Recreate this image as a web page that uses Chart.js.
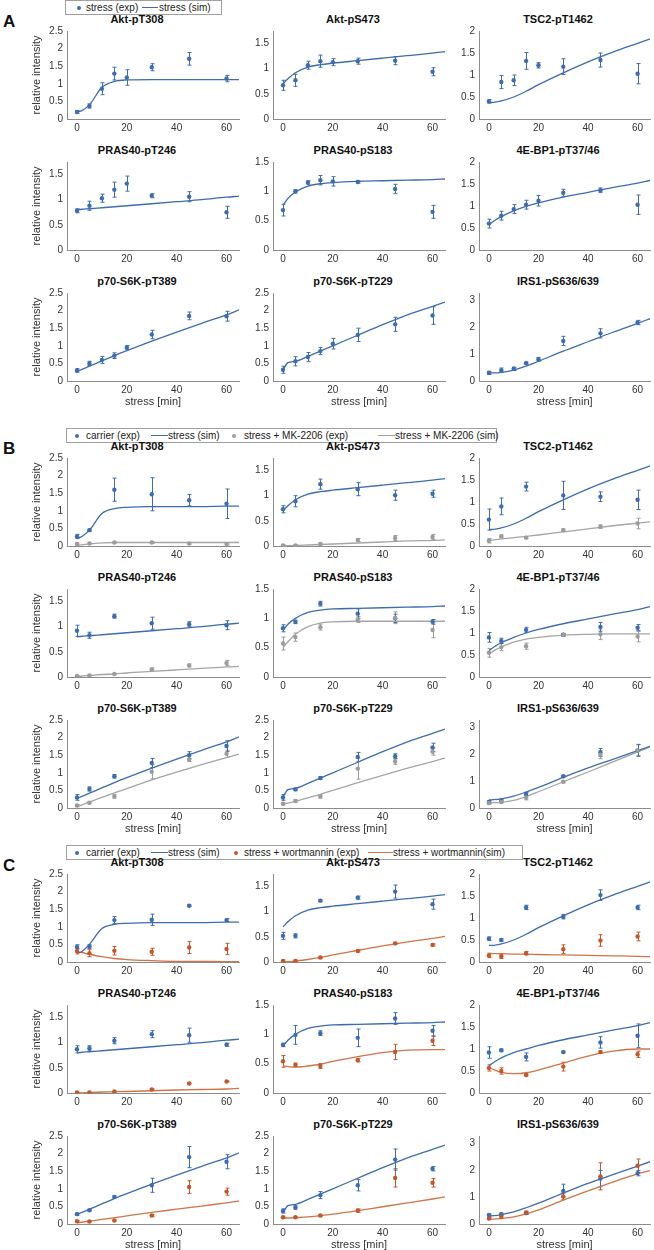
<!DOCTYPE html>
<html>
<head>
<meta charset="utf-8">
<script src="https://cdn.jsdelivr.net/npm/chart.js@4.4.1/dist/chart.umd.min.js"></script>
<style>
  body { margin: 0; background: #fff; width: 654px; height: 1250px; position: relative; overflow: hidden;
         font-family: 'Liberation Sans', Arial, sans-serif; }
  canvas { position: absolute; }
  .legend { position: absolute; height: 15px; border: 1px solid #a0a0a0; box-sizing: border-box; background: #fff;
            font-size: 10px; color: #222; white-space: nowrap; }
  .legend > span { position: absolute; }
  .dot { width: 4px; height: 4px; border-radius: 50%; top: 4.5px; margin-left: -2px; }
  .seg { height: 1.4px; top: 6px; }
  .lt { top: 0; line-height: 13px; }
  .letter { position: absolute; left: 3px; font: bold 17px 'Liberation Sans', Arial, sans-serif; color: #111; }
  .ttl { position: absolute; width: 140px; text-align: center; font: bold 11px 'Liberation Sans', Arial, sans-serif;
         line-height: 13px; color: #111; white-space: nowrap; }
</style>
</head>
<body>
<div class="letter" style="top:12px">A</div>
<div class="letter" style="top:439px">B</div>
<div class="letter" style="top:856px">C</div>

<div class="legend" style="left:65px;top:0;width:157px;">
  <span class="dot" style="left:13px;background:#3d6cb0"></span><span class="lt" style="left:20px">stress (exp)</span>
  <span class="seg" style="left:76px;width:16px;background:#3d6cb0"></span><span class="lt" style="left:93px">stress (sim)</span>
</div>
<div class="legend" style="left:66px;top:428px;width:431px;">
  <span class="dot" style="left:10px;background:#3d6cb0"></span><span class="lt" style="left:19px">carrier (exp)</span>
  <span class="seg" style="left:84px;width:17px;background:#3d6cb0"></span><span class="lt" style="left:101px">stress (sim)</span>
  <span class="dot" style="left:167px;background:#9c9c9c"></span><span class="lt" style="left:177px">stress + MK-2206 (exp)</span>
  <span class="seg" style="left:311px;width:17px;background:#a5a5a5"></span><span class="lt" style="left:328px">stress + MK-2206 (sim)</span>
</div>
<div class="legend" style="left:66px;top:845px;width:457px;">
  <span class="dot" style="left:10px;background:#3d6cb0"></span><span class="lt" style="left:19px">carrier (exp)</span>
  <span class="seg" style="left:84px;width:17px;background:#3d6cb0"></span><span class="lt" style="left:101px">stress (sim)</span>
  <span class="dot" style="left:169px;background:#c4562b"></span><span class="lt" style="left:177px">stress + wortmannin (exp)</span>
  <span class="seg" style="left:301px;width:25px;background:#cf7446"></span><span class="lt" style="left:326px">stress + wortmannin(sim)</span>
</div>

<script>
// ---- data ----
const proteins = ['Akt-pT308', 'Akt-pS473', 'TSC2-pT1462', 'PRAS40-pT246', 'PRAS40-pS183',
                  '4E-BP1-pT37/46', 'p70-S6K-pT389', 'p70-S6K-pT229', 'IRS1-pS636/639'];
const yMax = [2.5, 1.75, 2, 1.75, 1.5, 2, 2.5, 2.5, 3.25];
const yTicks = [
  [0, 0.5, 1, 1.5, 2, 2.5], [0, 0.5, 1, 1.5], [0, 0.5, 1, 1.5, 2], [0, 0.5, 1, 1.5], [0, 0.5, 1, 1.5],
  [0, 0.5, 1, 1.5, 2], [0, 0.5, 1, 1.5, 2, 2.5], [0, 0.5, 1, 1.5, 2, 2.5], [0, 0.5, 1, 1.5, 2, 2.5, 3]
];
const xTicks = [0, 20, 40, 60];
const timeA = [0, 5, 10, 15, 20, 30, 45, 60];
const timeBC = [0, 5, 15, 30, 45, 60];
const simT = [0, 2, 5, 10, 15, 20, 30, 40, 50, 60, 65];

// panel A: stress (exp) and stress (sim)
const aMean = [
  [0.2, 0.37, 0.86, 1.29, 1.18, 1.47, 1.71, 1.15],
  [0.67, 0.77, 1.07, 1.15, 1.13, 1.15, 1.16, 0.94],
  [0.4, 0.84, 0.88, 1.32, 1.22, 1.19, 1.34, 1.03],
  [0.78, 0.88, 1.03, 1.2, 1.32, 1.08, 1.06, 0.75],
  [0.68, 1.0, 1.15, 1.19, 1.17, 1.16, 1.04, 0.65],
  [0.6, 0.78, 0.93, 1.03, 1.12, 1.3, 1.36, 1.03],
  [0.3, 0.5, 0.6, 0.72, 0.95, 1.32, 1.85, 1.84],
  [0.32, 0.56, 0.68, 0.85, 1.06, 1.31, 1.61, 1.86],
  [0.3, 0.4, 0.45, 0.66, 0.8, 1.48, 1.76, 2.16]
];
const aErr = [
  [0.04, 0.06, 0.17, 0.18, 0.22, 0.1, 0.18, 0.09],
  [0.1, 0.12, 0.08, 0.12, 0.07, 0.06, 0.08, 0.08],
  [0.04, 0.15, 0.12, 0.19, 0.06, 0.18, 0.16, 0.23],
  [0.04, 0.09, 0.08, 0.15, 0.15, 0.04, 0.1, 0.12],
  [0.1, 0.03, 0.03, 0.08, 0.08, 0.02, 0.08, 0.11],
  [0.1, 0.1, 0.1, 0.1, 0.12, 0.08, 0.05, 0.22],
  [0.05, 0.06, 0.1, 0.08, 0.06, 0.12, 0.11, 0.14],
  [0.1, 0.13, 0.13, 0.1, 0.15, 0.19, 0.2, 0.25],
  [0.06, 0.08, 0.06, 0.04, 0.07, 0.17, 0.17, 0.08]
];
const aSim = [
  [0.2, 0.24, 0.4, 0.9, 1.07, 1.11, 1.12, 1.12, 1.12, 1.12, 1.12],
  [0.7, 0.8, 0.92, 1.03, 1.08, 1.11, 1.16, 1.21, 1.26, 1.31, 1.34],
  [0.38, 0.38, 0.41, 0.5, 0.63, 0.78, 1.05, 1.3, 1.52, 1.72, 1.82],
  [0.8, 0.81, 0.82, 0.84, 0.86, 0.88, 0.92, 0.96, 1.0, 1.05, 1.07],
  [0.76, 0.88, 0.99, 1.09, 1.13, 1.15, 1.17, 1.18, 1.19, 1.2, 1.21],
  [0.57, 0.66, 0.76, 0.89, 0.99, 1.07, 1.2, 1.31, 1.42, 1.52, 1.58],
  [0.27, 0.33, 0.42, 0.57, 0.72, 0.86, 1.13, 1.39, 1.64, 1.88, 2.02],
  [0.32, 0.52, 0.56, 0.7, 0.85, 1.0, 1.3, 1.6, 1.88, 2.12, 2.24],
  [0.3, 0.3, 0.32, 0.4, 0.55, 0.73, 1.1, 1.45, 1.8, 2.13, 2.3]
];

// panel B: carrier / stress + MK-2206
const bCarrier = [
  [0.27, 0.45, 1.6, 1.47, 1.3, 1.2],
  [0.73, 0.89, 1.23, 1.13, 1.01, 1.04],
  [0.6, 0.9, 1.35, 1.15, 1.12, 1.05],
  [0.92, 0.83, 1.21, 1.07, 1.05, 1.03],
  [0.83, 0.94, 1.25, 1.08, 1.0, 0.94],
  [0.9, 0.82, 1.07, 0.96, 1.14, 1.12],
  [0.3, 0.54, 0.9, 1.28, 1.5, 1.76],
  [0.3, 0.53, 0.85, 1.45, 1.47, 1.72],
  [0.22, 0.28, 0.52, 1.17, 2.05, 2.13]
];
const bCarrierErr = [
  [0.06, 0.03, 0.33, 0.47, 0.16, 0.42],
  [0.07, 0.11, 0.1, 0.13, 0.1, 0.07],
  [0.24, 0.19, 0.1, 0.32, 0.11, 0.22],
  [0.11, 0.06, 0.04, 0.12, 0.05, 0.09],
  [0.06, 0.03, 0.04, 0.08, 0.07, 0.04],
  [0.11, 0.06, 0.06, 0.03, 0.1, 0.07],
  [0.08, 0.06, 0.05, 0.13, 0.1, 0.15],
  [0.08, 0.04, 0.04, 0.13, 0.07, 0.12],
  [0.05, 0.05, 0.06, 0.03, 0.15, 0.22]
];
const bMk = [
  [0.06, 0.07, 0.1, 0.1, 0.07, 0.06],
  [0.01, 0.01, 0.04, 0.12, 0.16, 0.18],
  [0.12, 0.22, 0.19, 0.36, 0.44, 0.51],
  [0.02, 0.03, 0.06, 0.15, 0.23, 0.28],
  [0.57, 0.68, 0.85, 0.98, 1.01, 0.8],
  [0.55, 0.68, 0.7, 0.96, 0.97, 0.92],
  [0.07, 0.15, 0.33, 1.03, 1.37, 1.54],
  [0.12, 0.2, 0.33, 1.12, 1.32, 1.6],
  [0.18, 0.22, 0.38, 0.97, 1.97, 2.13]
];
const bMkErr = [
  [0.03, 0.02, 0.02, 0.03, 0.02, 0.03],
  [0.02, 0.02, 0.02, 0.03, 0.05, 0.05],
  [0.05, 0.03, 0.02, 0.03, 0.04, 0.12],
  [0.01, 0.01, 0.01, 0.03, 0.03, 0.05],
  [0.11, 0.07, 0.05, 0.05, 0.1, 0.13],
  [0.1, 0.08, 0.07, 0.03, 0.12, 0.12],
  [0.03, 0.03, 0.05, 0.2, 0.05, 0.1],
  [0.03, 0.04, 0.05, 0.3, 0.08, 0.1],
  [0.04, 0.04, 0.08, 0.04, 0.15, 0.2]
];
const bSimStress = [
  [0.22, 0.27, 0.45, 0.92, 1.06, 1.1, 1.12, 1.12, 1.12, 1.13, 1.13],
  [0.7, 0.8, 0.92, 1.03, 1.08, 1.11, 1.16, 1.21, 1.26, 1.31, 1.34],
  [0.38, 0.38, 0.41, 0.5, 0.63, 0.78, 1.05, 1.3, 1.52, 1.72, 1.82],
  [0.8, 0.81, 0.82, 0.84, 0.86, 0.88, 0.92, 0.96, 1.0, 1.05, 1.07],
  [0.8, 0.9, 1.0, 1.1, 1.14, 1.16, 1.17, 1.18, 1.19, 1.2, 1.21],
  [0.6, 0.68, 0.78, 0.9, 1.0, 1.08, 1.21, 1.32, 1.43, 1.53, 1.6],
  [0.27, 0.33, 0.42, 0.57, 0.72, 0.86, 1.13, 1.39, 1.64, 1.88, 2.02],
  [0.32, 0.52, 0.56, 0.7, 0.85, 1.0, 1.3, 1.6, 1.88, 2.12, 2.24],
  [0.3, 0.31, 0.34, 0.44, 0.59, 0.76, 1.13, 1.48, 1.8, 2.12, 2.28]
];
const bSimMk = [
  [0.02, 0.03, 0.06, 0.09, 0.1, 0.1, 0.1, 0.1, 0.1, 0.1, 0.1],
  [0.0, 0.005, 0.01, 0.02, 0.03, 0.04, 0.06, 0.08, 0.1, 0.11, 0.12],
  [0.13, 0.14, 0.16, 0.19, 0.22, 0.25, 0.32, 0.39, 0.46, 0.52, 0.55],
  [0.01, 0.02, 0.03, 0.05, 0.06, 0.08, 0.11, 0.14, 0.17, 0.2, 0.21],
  [0.5, 0.6, 0.73, 0.86, 0.92, 0.94, 0.95, 0.95, 0.95, 0.95, 0.95],
  [0.52, 0.6, 0.68, 0.79, 0.86, 0.9, 0.95, 0.97, 0.98, 0.98, 0.98],
  [0.03, 0.09, 0.17, 0.3, 0.43, 0.55, 0.8, 1.02, 1.23, 1.43, 1.53],
  [0.12, 0.14, 0.19, 0.29, 0.39, 0.5, 0.72, 0.93, 1.13, 1.32, 1.42],
  [0.2, 0.2, 0.21, 0.28, 0.42, 0.6, 0.97, 1.33, 1.7, 2.07, 2.26]
];

// panel C: carrier / stress + wortmannin
const cCarrier = [
  [0.43, 0.44, 1.19, 1.2, 1.6, 1.19],
  [0.52, 0.52, 1.22, 1.28, 1.4, 1.15],
  [0.53, 0.5, 1.24, 1.03, 1.52, 1.24],
  [0.87, 0.89, 1.04, 1.17, 1.15, 0.96],
  [0.82, 0.99, 1.02, 0.94, 1.27, 1.06],
  [0.92, 0.97, 0.82, 0.93, 1.15, 1.3],
  [0.28, 0.39, 0.77, 1.1, 1.9, 1.77],
  [0.37, 0.47, 0.82, 1.1, 1.83, 1.57],
  [0.33, 0.36, 0.4, 1.22, 1.68, 1.88]
];
const cCarrierErr = [
  [0.06, 0.05, 0.1, 0.16, 0.02, 0.04],
  [0.07, 0.04, 0.02, 0.03, 0.13, 0.1],
  [0.04, 0.03, 0.05, 0.05, 0.12, 0.05],
  [0.07, 0.05, 0.06, 0.07, 0.14, 0.03],
  [0.03, 0.16, 0.04, 0.15, 0.1, 0.09],
  [0.13, 0.03, 0.09, 0.02, 0.13, 0.27],
  [0.03, 0.02, 0.03, 0.2, 0.3, 0.2],
  [0.06, 0.05, 0.1, 0.16, 0.3, 0.06],
  [0.04, 0.04, 0.05, 0.25, 0.3, 0.1]
];
const cWort = [
  [0.31, 0.25, 0.32, 0.29, 0.41, 0.37],
  [0.02, 0.02, 0.09, 0.22, 0.37, 0.34],
  [0.15, 0.13, 0.2, 0.29, 0.49, 0.58],
  [0.01, 0.01, 0.03, 0.07, 0.19, 0.23],
  [0.54, 0.48, 0.46, 0.56, 0.7, 0.89],
  [0.57, 0.5, 0.41, 0.6, 0.93, 0.88],
  [0.08, 0.07, 0.1, 0.24, 1.05, 0.92],
  [0.19, 0.19, 0.24, 0.38, 1.31, 1.17],
  [0.2, 0.27, 0.42, 1.02, 1.76, 2.15]
];
const cWortErr = [
  [0.08, 0.1, 0.12, 0.1, 0.17, 0.16],
  [0.02, 0.02, 0.02, 0.02, 0.02, 0.02],
  [0.05, 0.05, 0.04, 0.1, 0.13, 0.1],
  [0.01, 0.01, 0.01, 0.01, 0.01, 0.01],
  [0.1, 0.03, 0.04, 0.03, 0.13, 0.08],
  [0.07, 0.07, 0.02, 0.1, 0.03, 0.07],
  [0.02, 0.02, 0.02, 0.03, 0.18, 0.1],
  [0.03, 0.02, 0.03, 0.05, 0.26, 0.12],
  [0.04, 0.06, 0.06, 0.12, 0.5, 0.25]
];
const cSimStress = [
  [0.25, 0.3, 0.5, 0.95, 1.07, 1.1, 1.12, 1.12, 1.12, 1.13, 1.13],
  [0.7, 0.8, 0.92, 1.03, 1.08, 1.11, 1.16, 1.21, 1.26, 1.31, 1.34],
  [0.38, 0.38, 0.41, 0.5, 0.63, 0.78, 1.05, 1.3, 1.52, 1.72, 1.82],
  [0.8, 0.81, 0.82, 0.84, 0.86, 0.88, 0.92, 0.96, 1.0, 1.05, 1.07],
  [0.8, 0.9, 1.0, 1.1, 1.14, 1.16, 1.17, 1.18, 1.19, 1.2, 1.21],
  [0.62, 0.7, 0.8, 0.92, 1.0, 1.08, 1.21, 1.32, 1.43, 1.53, 1.6],
  [0.27, 0.33, 0.42, 0.57, 0.72, 0.86, 1.13, 1.39, 1.64, 1.88, 2.02],
  [0.32, 0.52, 0.56, 0.7, 0.85, 1.0, 1.3, 1.6, 1.88, 2.12, 2.24],
  [0.3, 0.31, 0.35, 0.45, 0.6, 0.77, 1.14, 1.5, 1.82, 2.14, 2.3]
];
const cSimWort = [
  [0.3, 0.27, 0.22, 0.15, 0.1, 0.07, 0.04, 0.02, 0.02, 0.01, 0.01],
  [0.0, 0.005, 0.02, 0.05, 0.09, 0.14, 0.23, 0.32, 0.4, 0.47, 0.51],
  [0.19, 0.19, 0.19, 0.18, 0.18, 0.17, 0.16, 0.15, 0.14, 0.13, 0.12],
  [0.0, 0.003, 0.01, 0.02, 0.025, 0.03, 0.045, 0.06, 0.07, 0.08, 0.09],
  [0.46, 0.45, 0.44, 0.46, 0.49, 0.54, 0.62, 0.69, 0.73, 0.74, 0.74],
  [0.58, 0.53, 0.47, 0.44, 0.46, 0.52, 0.68, 0.84, 0.95, 1.0, 1.0],
  [0.03, 0.05, 0.08, 0.13, 0.18, 0.23, 0.33, 0.42, 0.51, 0.6, 0.65],
  [0.17, 0.17, 0.18, 0.2, 0.24, 0.28, 0.38, 0.49, 0.6, 0.71, 0.77],
  [0.18, 0.18, 0.2, 0.26, 0.37, 0.52, 0.88, 1.22, 1.55, 1.85, 1.97]
];

// ---- styling / layout ----
const BLUE = '#3d6cb0', GRAY = '#9c9c9c', GRAY_LINE = '#a5a5a5', ORANGE = '#c4562b', ORANGE_LINE = '#cf7446';
const FONT = "'Liberation Sans', Arial, sans-serif";
const AXIS = '#8c8c8c', TEXT = '#333';
const panelTop = [0, 427, 843];
const colLeft = [0, 246, 452], colWidth = [243, 203, 202], colAxis = [67, 27, 27];
const titleCenter = [137, 353, 558];

// error bars drawn from each dataset's "errors" array through the chart scales
const errorBars = {
  id: 'errorBars',
  beforeDatasetsDraw(chart) {
    const { ctx, scales: { x, y } } = chart;
    chart.data.datasets.forEach(ds => {
      if (!ds.errors) return;
      ctx.save();
      ctx.strokeStyle = ds.backgroundColor;
      ctx.lineWidth = 1;
      ds.data.forEach((p, j) => {
        const e = ds.errors[j];
        const px = Math.round(x.getPixelForValue(p.x)) + 0.5;
        const top = y.getPixelForValue(p.y + e), bot = y.getPixelForValue(p.y - e);
        ctx.beginPath();
        ctx.moveTo(px, top); ctx.lineTo(px, bot);
        ctx.moveTo(px - 2, top); ctx.lineTo(px + 2, top);
        ctx.moveTo(px - 2, bot); ctx.lineTo(px + 2, bot);
        ctx.stroke();
      });
      ctx.restore();
    });
  }
};

function pts(times, vals) { return times.map((t, i) => ({ x: t, y: vals[i] })); }

function expSet(times, vals, errs, color) {
  return { data: pts(times, vals), errors: errs, backgroundColor: color, borderWidth: 0,
           pointRadius: 2.2, pointStyle: 'circle', showLine: false };
}
function simSet(vals, color) {
  return { data: pts(simT, vals), borderColor: color, backgroundColor: color, borderWidth: 1.3,
           pointRadius: 0, showLine: true, fill: false, cubicInterpolationMode: 'monotone' };
}

function addChart(panel, p, datasets) {
  const row = Math.floor(p / 3), col = p % 3;
  const T = panelTop[panel] + 20 + row * 131;
  const hx = row === 2 ? 30 : 16;
  const h = 106 + hx;

  const ttl = document.createElement('div');
  ttl.className = 'ttl';
  ttl.textContent = proteins[p];
  ttl.style.left = (titleCenter[col] - 70) + 'px';
  ttl.style.top = (T - 7) + 'px';
  document.body.appendChild(ttl);

  const cv = document.createElement('canvas');
  cv.width = colWidth[col]; cv.height = h;
  cv.style.left = colLeft[col] + 'px'; cv.style.top = (T - 7) + 'px';
  cv.style.width = colWidth[col] + 'px'; cv.style.height = h + 'px';
  document.body.appendChild(cv);

  new Chart(cv.getContext('2d'), {
    type: 'scatter',
    data: { datasets },
    plugins: [errorBars],
    options: {
      responsive: false, animation: false, devicePixelRatio: 1, events: [],
      layout: { padding: { left: 0, right: 0, top: 18, bottom: 0 } },
      plugins: { legend: { display: false }, tooltip: { enabled: false }, title: { display: false } },
      scales: {
        x: {
          type: 'linear', min: -4, max: 65,
          afterBuildTicks: s => { s.ticks = xTicks.map(v => ({ value: v })); },
          afterFit: s => { s.height = hx; },
          ticks: { color: TEXT, font: { family: FONT, size: 10 }, padding: 3, maxRotation: 0, autoSkip: false },
          grid: { display: false, drawTicks: false },
          border: { color: AXIS, width: 1 },
          title: { display: row === 2, text: 'stress [min]', color: TEXT, padding: { top: 0, bottom: 2 },
                   font: { family: FONT, size: 11 } }
        },
        y: {
          min: 0, max: yMax[p],
          afterBuildTicks: s => { s.ticks = yTicks[p].map(v => ({ value: v })); },
          afterFit: s => { s.width = colAxis[col]; },
          ticks: { color: TEXT, font: { family: FONT, size: 10 }, padding: 4, callback: v => String(v) },
          grid: { display: false, drawTicks: false },
          border: { color: AXIS, width: 1 },
          title: { display: col === 0, text: 'relative intensity', color: TEXT, padding: { top: 30, bottom: 0 },
                   font: { family: FONT, size: 11 } }
        }
      }
    }
  });
}

for (let p = 0; p < 9; p++) {
  addChart(0, p, [
    expSet(timeA, aMean[p], aErr[p], BLUE),
    simSet(aSim[p], BLUE)
  ]);
  addChart(1, p, [
    expSet(timeBC, bMk[p], bMkErr[p], GRAY),
    expSet(timeBC, bCarrier[p], bCarrierErr[p], BLUE),
    simSet(bSimStress[p], BLUE),
    simSet(bSimMk[p], GRAY_LINE)
  ]);
  addChart(2, p, [
    expSet(timeBC, cWort[p], cWortErr[p], ORANGE),
    expSet(timeBC, cCarrier[p], cCarrierErr[p], BLUE),
    simSet(cSimStress[p], BLUE),
    simSet(cSimWort[p], ORANGE_LINE)
  ]);
}
</script>
</body>
</html>
